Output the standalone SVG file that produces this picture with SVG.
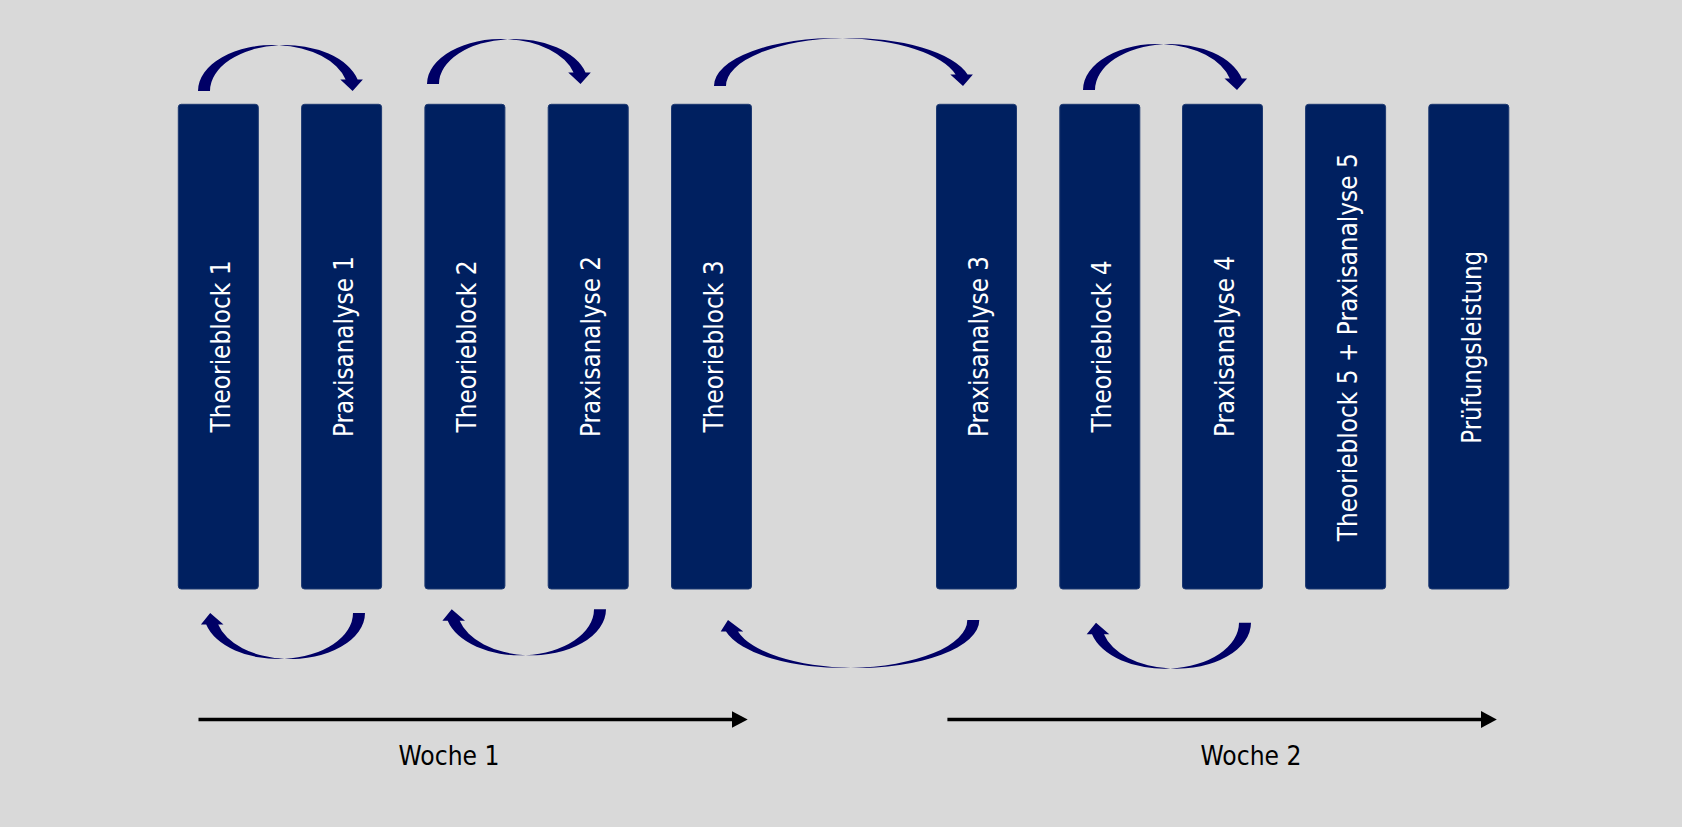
<svg xmlns="http://www.w3.org/2000/svg" width="1682" height="827" viewBox="0 0 1682 827">
<style>
.blk{fill:#002060;stroke:#1c3870;stroke-width:1}
.lbl{font-family:"DejaVu Sans","Liberation Sans",sans-serif;font-size:26.5px;fill:#ffffff}
.wk{font-family:"DejaVu Sans","Liberation Sans",sans-serif;font-size:26.5px;fill:#000000}
.carr{fill:#000066}
.tl{stroke:#000000;stroke-width:3.5;fill:none}
</style>
<defs>
<marker id="ah" markerUnits="userSpaceOnUse" markerWidth="16" markerHeight="17" refX="2" refY="8.5" orient="auto">
<path d="M0,0 L16,8.5 L0,17 Z" fill="#000000"/>
</marker>
</defs>
<rect x="0" y="0" width="1682" height="827" fill="#d9d9d9"/>

<g id="n1"><rect class="blk" x="178.3" y="104.3" width="80" height="484.7" rx="3"/><text class="lbl" transform="translate(229.8,346.5) rotate(-90)" text-anchor="middle" textLength="172" lengthAdjust="spacingAndGlyphs">Theorieblock 1</text></g>
<g id="n2"><rect class="blk" x="301.6" y="104.3" width="80" height="484.7" rx="3"/><text class="lbl" transform="translate(353.1,346.5) rotate(-90)" text-anchor="middle" textLength="181" lengthAdjust="spacingAndGlyphs">Praxisanalyse 1</text></g>
<g id="n3"><rect class="blk" x="424.9" y="104.3" width="80" height="484.7" rx="3"/><text class="lbl" transform="translate(476.4,346.5) rotate(-90)" text-anchor="middle" textLength="172" lengthAdjust="spacingAndGlyphs">Theorieblock 2</text></g>
<g id="n4"><rect class="blk" x="548.2" y="104.3" width="80" height="484.7" rx="3"/><text class="lbl" transform="translate(599.7,346.5) rotate(-90)" text-anchor="middle" textLength="181" lengthAdjust="spacingAndGlyphs">Praxisanalyse 2</text></g>
<g id="n5"><rect class="blk" x="671.5" y="104.3" width="80" height="484.7" rx="3"/><text class="lbl" transform="translate(723,346.5) rotate(-90)" text-anchor="middle" textLength="172" lengthAdjust="spacingAndGlyphs">Theorieblock 3</text></g>
<g id="n6"><rect class="blk" x="936.5" y="104.3" width="80" height="484.7" rx="3"/><text class="lbl" transform="translate(988,346.5) rotate(-90)" text-anchor="middle" textLength="181" lengthAdjust="spacingAndGlyphs">Praxisanalyse 3</text></g>
<g id="n7"><rect class="blk" x="1059.8" y="104.3" width="80" height="484.7" rx="3"/><text class="lbl" transform="translate(1111.3,346.5) rotate(-90)" text-anchor="middle" textLength="172" lengthAdjust="spacingAndGlyphs">Theorieblock 4</text></g>
<g id="n8"><rect class="blk" x="1182.5" y="104.3" width="80" height="484.7" rx="3"/><text class="lbl" transform="translate(1234,346.5) rotate(-90)" text-anchor="middle" textLength="181" lengthAdjust="spacingAndGlyphs">Praxisanalyse 4</text></g>
<g id="n9"><rect class="blk" x="1305.6" y="104.3" width="80" height="484.7" rx="3"/><text class="lbl" transform="translate(1357.1,347.3) rotate(-90)" text-anchor="middle" textLength="388" lengthAdjust="spacingAndGlyphs">Theorieblock 5 + Praxisanalyse 5</text></g>
<g id="n10"><rect class="blk" x="1428.8" y="104.3" width="80" height="484.7" rx="3"/><text class="lbl" transform="translate(1480.8,347.3) rotate(-90)" text-anchor="middle" textLength="193" lengthAdjust="spacingAndGlyphs">Prüfungsleistung</text></g>

<g id="connectors">
<path class="carr" d="M198,91 A75,46 0 0 1 279,45.15 A75,46 0 0 1 357.6,79.5 L362.9,79.5 L352.6,91 L340.3,79.5 L345.6,79.5 A75,46 0 0 0 279,45.15 A75,46 0 0 0 210,91 Z"/>
<path class="carr" d="M427,84 A74.5,45 0 0 1 507.5,39.15 A74.5,45 0 0 1 585.5,72.5 L590.8,72.5 L580.5,84 L568.2,72.5 L573.5,72.5 A74.5,45 0 0 0 507.5,39.15 A74.5,45 0 0 0 439,84 Z"/>
<path class="carr" d="M714,86 A122.6,48 0 0 1 842.6,38.06 A122.6,48 0 0 1 967.6,74.5 L972.9,74.5 L963,86 L950.3,74.5 L955.6,74.5 A122.6,48 0 0 0 842.6,38.06 A122.6,48 0 0 0 726,86 Z"/>
<path class="carr" d="M1083,90 A74.6,46 0 0 1 1163.6,44.15 A74.6,46 0 0 1 1241.8,78.5 L1247.1,78.5 L1237,90 L1224.5,78.5 L1229.8,78.5 A74.6,46 0 0 0 1163.6,44.15 A74.6,46 0 0 0 1095,90 Z"/>
<path class="carr" d="M365,613 A74.6,46 0 0 1 284.4,658.85 A74.6,46 0 0 1 206.2,624.5 L200.9,624.5 L210.2,613 L223.5,624.5 L218.2,624.5 A74.6,46 0 0 0 284.4,658.85 A74.6,46 0 0 0 353,613 Z"/>
<path class="carr" d="M606,609.3 A74.33,46 0 0 1 525.67,655.15 A74.33,46 0 0 1 447.7,620.8 L442.4,620.8 L451.7,609.3 L465,620.8 L459.7,620.8 A74.33,46 0 0 0 525.67,655.15 A74.33,46 0 0 0 594,609.3 Z"/>
<path class="carr" d="M979.3,620 A122.43,48 0 0 1 850.87,667.94 A122.43,48 0 0 1 726,631.5 L720.7,631.5 L728,620 L743.3,631.5 L738,631.5 A122.43,48 0 0 0 850.87,667.94 A122.43,48 0 0 0 967.3,620 Z"/>
<path class="carr" d="M1251,622.7 A74.69,46 0 0 1 1170.31,668.55 A74.69,46 0 0 1 1092,634.2 L1086.7,634.2 L1096,622.7 L1109.3,634.2 L1104,634.2 A74.69,46 0 0 0 1170.31,668.55 A74.69,46 0 0 0 1239,622.7 Z"/>
<line class="tl" x1="198.5" y1="719.5" x2="733.7" y2="719.5" marker-end="url(#ah)"/>
<line class="tl" x1="947.4" y1="719.5" x2="1482.8" y2="719.5" marker-end="url(#ah)"/>
</g>

<g id="week1"><text class="wk" x="449" y="765" text-anchor="middle" textLength="101" lengthAdjust="spacingAndGlyphs">Woche 1</text></g>
<g id="week2"><text class="wk" x="1251" y="765" text-anchor="middle" textLength="101" lengthAdjust="spacingAndGlyphs">Woche 2</text></g>
</svg>
